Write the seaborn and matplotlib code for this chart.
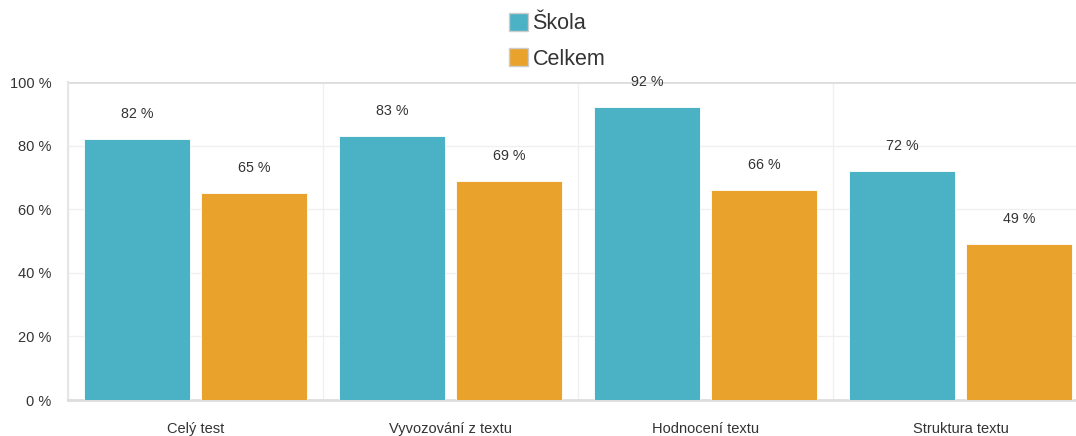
import pandas as pd
import matplotlib.pyplot as plt
import seaborn as sns
from matplotlib.patches import Patch

categories = ['Celý test', 'Vyvozování z textu', 'Hodnocení textu', 'Struktura textu']
skola = [82, 83, 92, 72]
celkem = [65, 69, 66, 49]
series = ['Škola', 'Celkem']
colors = ['#4bb1c5', '#e9a22b']
y_ticks = [0, 20, 40, 60, 80, 100]


def main():
    df = pd.DataFrame({
        'kategorie': categories * 2,
        'hodnota': skola + celkem,
        'serie': [series[0]] * len(categories) + [series[1]] * len(categories),
    })

    sns.set_style('white')
    plt.rcParams['font.family'] = ['Liberation Sans', 'DejaVu Sans']

    fig = plt.figure(figsize=(10.76, 4.36), dpi=100)
    ax = fig.add_axes([68 / 1076, 36 / 436, (1076 - 68) / 1076, 318 / 436])

    sns.barplot(data=df, x='kategorie', y='hodnota', hue='serie', order=categories,
                hue_order=series, palette=colors, saturation=1, width=0.92, gap=0.1,
                edgecolor='white', linewidth=0.6, legend=False, ax=ax, zorder=3)

    # labels above bars
    for cont in ax.containers:
        for bar in cont:
            h = bar.get_height()
            ax.annotate(f'{h:.0f} %', (bar.get_x() + bar.get_width() / 2, h),
                        xytext=(0, 18), textcoords='offset points', ha='center', va='center',
                        fontsize=10.3, color='#333333', annotation_clip=False, zorder=5)

    ax.set_yticks(y_ticks)
    ax.set_yticklabels([f'{v} %' for v in y_ticks], fontsize=10.5, color='#333333')
    ax.tick_params(axis='y', length=8, color='#dddddd', width=1, pad=4)

    # category boundaries as major ticks, names as minor ticks
    ax.set_xticks([i - 0.5 for i in range(len(categories) + 1)])
    ax.set_xticklabels([''] * (len(categories) + 1))
    ax.set_xticks(range(len(categories)), minor=True)
    ax.set_xticklabels(categories, minor=True, fontsize=10.5, color='#333333')
    ax.tick_params(axis='x', which='major', length=8, color='#eeeeee', width=1)
    ax.tick_params(axis='x', which='minor', length=0, pad=15.5)
    ax.set_xlabel('')
    ax.set_ylabel('')

    # the chart is cut at the right edge, like the reference
    ax.set_ylim(0, 100)
    ax.set_xlim(-0.5, -0.5 + (1076 - 68) / 255)

    ax.grid(True, axis='both', which='major', color='#f0f0f0', linewidth=1, zorder=0)
    ax.axhline(100, color='#dddddd', linewidth=2, zorder=2)
    for side in ['top', 'right']:
        ax.spines[side].set_visible(False)
    ax.spines['left'].set_color('#e6e6e6')
    ax.spines['left'].set_linewidth(1.5)
    ax.spines['bottom'].set_color('#dddddd')
    ax.spines['bottom'].set_linewidth(2)

    handles = [Patch(facecolor=c, edgecolor='#cccccc', linewidth=1) for c in colors]
    fig.legend(handles, series, loc='upper center', bbox_to_anchor=(557 / 1076, 1.015),
               ncol=1, frameon=False, fontsize=15.5, handlelength=0.9, handleheight=0.9,
               handletextpad=0.2, labelspacing=0.65, labelcolor='#333333')

    fig.savefig('out.png', dpi=100)
    plt.close(fig)


if __name__ == '__main__':
    main()
